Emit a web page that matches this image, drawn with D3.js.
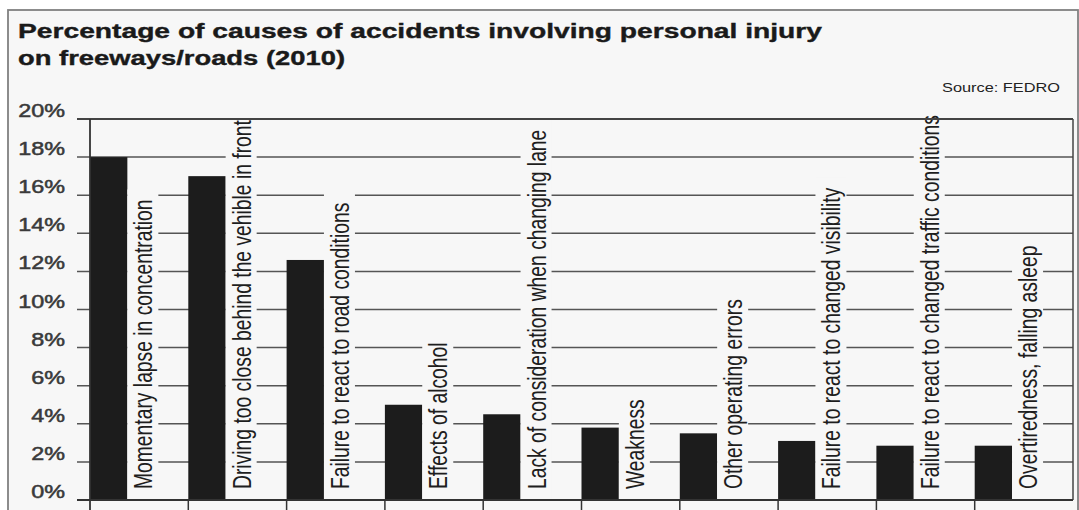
<!DOCTYPE html>
<html>
<head>
<meta charset="utf-8">
<script src="https://cdn.jsdelivr.net/npm/d3@7"></script>
<style>
  body { margin: 0; background: #ffffff; }
  svg { display: block; font-family: "Liberation Sans", Arial, Helvetica, sans-serif; }
</style>
</head>
<body>
<div id="chart"></div>
<script>
// chart data
const categories = [
    "Momentary lapse in concentration",
    "Driving too close behind the vehible in front",
    "Failure to react to road conditions",
    "Effects of alcohol",
    "Lack of consideration when changing lane",
    "Weakness",
    "Other operating errors",
    "Failure to react to changed visibility",
    "Failure to react to changed traffic conditions",
    "Overtiredness, falling asleep"
];
const values = [18.0, 17.0, 12.6, 5.0, 4.5, 3.8, 3.5, 3.1, 2.85, 2.85];
const yTicks = [0, 2, 4, 6, 8, 10, 12, 14, 16, 18, 20];
const titleLines = ["Percentage of causes of accidents involving personal injury", "on freeways/roads (2010)"];
const sourceText = "Source: FEDRO";

// layout
const w = 1079, h = 510;
const plotLeft = 90, plotRight = 1073, plotTop = 119, plotBottom = 500;
const stretch = 1.3; // the picture is stretched sideways

const svg = d3.select("#chart").append("svg").attr("width", w).attr("height", h);

// frame
svg.append("rect")
    .attr("x", 8).attr("y", 10).attr("width", 1070).attr("height", 520)
    .attr("fill", "#f7f7f7").attr("stroke", "#808080").attr("stroke-width", 1.8);

// title
const titleWidths = [804, 327];
titleLines.forEach((t, i) => {
    svg.append("text")
        .attr("x", 18).attr("y", 38 + i * 27)
        .attr("font-size", 21).attr("font-weight", "bold").attr("fill", "#1a1a1a")
        .attr("stroke", "#1a1a1a").attr("stroke-width", 0.4)
        .attr("textLength", titleWidths[i]).attr("lengthAdjust", "spacingAndGlyphs")
        .text(t);
});

svg.append("text")
    .attr("x", 942).attr("y", 92)
    .attr("font-size", 13.5).attr("fill", "#222")
    .attr("textLength", 118).attr("lengthAdjust", "spacingAndGlyphs")
    .text(sourceText);

// scales
const xScale = d3.scaleBand().domain(categories).range([plotLeft, plotRight]).paddingInner(0).paddingOuter(0);
const yScale = d3.scaleLinear().domain([0, 20]).range([plotBottom, plotTop]);
const barW = xScale.bandwidth() * 0.38;

// gridlines (with ticks on the left)
svg.append("g")
    .selectAll("line")
    .data(yTicks.filter(d => d > 0 && d < 20))
    .join("line")
    .attr("x1", 77).attr("x2", plotRight)
    .attr("y1", d => yScale(d)).attr("y2", d => yScale(d))
    .attr("stroke", "#555").attr("stroke-width", 1.5);

// tick labels
svg.append("g")
    .selectAll("text")
    .data(yTicks)
    .join("text")
    .attr("transform", d => "translate(65," + (yScale(d) - 2) + ") scale(" + stretch + ",1)")
    .attr("text-anchor", "end")
    .attr("font-size", 18).attr("fill", "#3a3a3a")
    .attr("stroke", "#3a3a3a").attr("stroke-width", 0.5)
    .text(d => d + "%");

// bars
svg.append("g")
    .selectAll("rect")
    .data(values)
    .join("rect")
    .attr("x", (d, i) => xScale(categories[i]))
    .attr("y", d => yScale(d))
    .attr("width", barW)
    .attr("height", d => yScale(0) - yScale(d))
    .attr("fill", "#1c1c1c");

// vertical labels with a background that breaks the gridlines
const labels = svg.append("g");
categories.forEach((c, i) => {
    const bx = xScale(c) + barW;
    const bg = labels.append("rect").attr("fill", "#f7f7f7");
    const t = labels.append("text")
        .attr("transform", "translate(" + (bx + 25) + ",489) scale(" + stretch + ",1) rotate(-90)")
        .attr("font-size", 19.3).attr("fill", "#1e1e1e")
        .text(c);
    const len = t.node().getComputedTextLength();
    bg.attr("x", bx).attr("y", 489 - len - 10)
        .attr("width", 31).attr("height", plotBottom - (489 - len - 10));
});

// axes and border lines
svg.append("line").attr("x1", 77).attr("x2", plotRight).attr("y1", plotTop).attr("y2", plotTop)
    .attr("stroke", "#444").attr("stroke-width", 2);
svg.append("line").attr("x1", plotRight).attr("x2", plotRight).attr("y1", plotTop).attr("y2", plotBottom)
    .attr("stroke", "#444").attr("stroke-width", 1.5);
svg.append("line").attr("x1", plotLeft).attr("x2", plotLeft).attr("y1", plotTop).attr("y2", 510)
    .attr("stroke", "#333").attr("stroke-width", 1.8);
svg.append("line").attr("x1", 77).attr("x2", plotRight).attr("y1", plotBottom).attr("y2", plotBottom)
    .attr("stroke", "#333").attr("stroke-width", 1.8);

// category ticks under the axis
svg.append("g")
    .selectAll("line")
    .data(categories.slice(1))
    .join("line")
    .attr("x1", d => xScale(d)).attr("x2", d => xScale(d))
    .attr("y1", plotBottom).attr("y2", 510)
    .attr("stroke", "#333").attr("stroke-width", 1.5);
</script>
</body>
</html>
